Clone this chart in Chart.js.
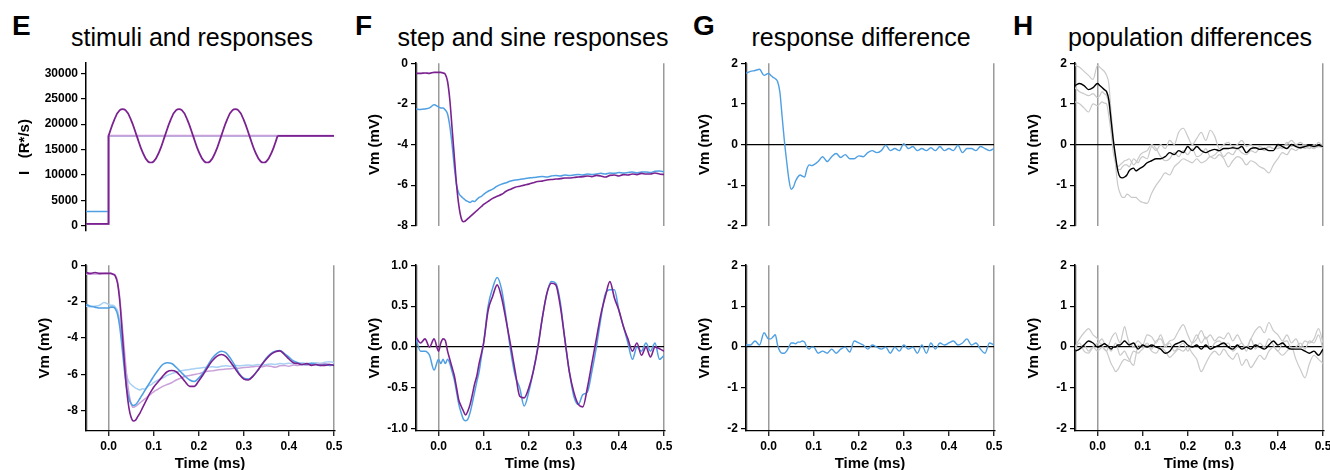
<!DOCTYPE html>
<html>
<head>
<meta charset="utf-8">
<script src="https://cdn.jsdelivr.net/npm/chart.js@4"></script>
<style>
  html, body { margin: 0; padding: 0; background: #fff; overflow: hidden; }
  #fig { position: relative; width: 1330px; height: 470px; }
  #fig canvas { position: absolute; }
  .letter { position: absolute; top: 12px; font: bold 28px "Liberation Sans", Arial, sans-serif; line-height: 1; }
  .title { position: absolute; top: 25px; width: 340px; text-align: center; font: 25px "Liberation Sans", Arial, sans-serif; line-height: 1; white-space: nowrap; }
</style>
</head>
<body>
<div id="fig">
  <div class="letter" style="left:12px">E</div>
  <div class="title" style="left:22px">stimuli and responses</div>
  <div class="letter" style="left:355px">F</div>
  <div class="title" style="left:363px">step and sine responses</div>
  <div class="letter" style="left:693px">G</div>
  <div class="title" style="left:691px">response difference</div>
  <div class="letter" style="left:1013px">H</div>
  <div class="title" style="left:1020px">population differences</div>
</div>
<script>
// shared time base (ms)
const timeMs = [-0.05, -0.04, -0.03, -0.02, -0.01,
  0, 0.005, 0.01, 0.015, 0.02, 0.025, 0.03, 0.035, 0.04, 0.045, 0.05, 0.055, 0.06, 0.065, 0.07, 0.075, 0.08, 0.085, 0.09, 0.095, 0.1,
  0.11, 0.12, 0.13, 0.14, 0.15, 0.16, 0.17, 0.18, 0.19, 0.2,
  0.21, 0.22, 0.23, 0.24, 0.25, 0.26, 0.27, 0.28, 0.29, 0.3,
  0.31, 0.32, 0.33, 0.34, 0.35, 0.36, 0.37, 0.38, 0.39, 0.4,
  0.41, 0.42, 0.43, 0.44, 0.45, 0.46, 0.47, 0.48, 0.49, 0.5];

const xGridValues = [-0.05, 0, 0.1, 0.2, 0.3, 0.4, 0.5];
const refLineTimes = [-0.05, 0, 0.5];

// E top: stimuli (R*/s)
const stepTime = [-0.05, 0, 0, 0.5];
const stepStimBlue = [2800, 2800, 17700, 17700];
const stepStimPurple = [350, 350, 17700, 17700];
const sinePreTime = [-0.05, 0, 0];
const sinePreRate = [350, 350, 17700];
const sineStimTime = [0, 0.0125, 0.025, 0.0375, 0.05, 0.0625, 0.075, 0.0875, 0.1, 0.1125,
  0.125, 0.1375, 0.15, 0.1625, 0.175, 0.1875, 0.2, 0.2125, 0.225, 0.2375,
  0.25, 0.2625, 0.275, 0.2875, 0.3, 0.3125, 0.325, 0.3375, 0.35, 0.3625, 0.375];
const sineStimRate = [17700, 20800, 22750, 22750, 20800, 17700, 14600, 12650, 12650, 14600,
  17700, 20800, 22750, 22750, 20800, 17700, 14600, 12650, 12650, 14600,
  17700, 20800, 22750, 22750, 20800, 17700, 14600, 12650, 12650, 14600, 17700];
const sineTailTime = [0.375, 0.5];
const sineTailRate = [17700, 17700];

// E bottom / F top: responses (mV)
const sineRespPurple = [-0.4, -0.45, -0.4, -0.45, -0.45,
  -0.45, -0.45, -0.5, -0.6, -1.0, -2.0, -3.6, -5.3, -6.8, -7.8, -8.35, -8.55, -8.5, -8.3, -8.1, -7.85, -7.6, -7.35, -7.1, -6.9, -6.7,
  -6.4, -6.1, -5.85, -5.78, -5.85, -6.1, -6.4, -6.65, -6.65, -6.35,
  -6.0, -5.6, -5.25, -5.0, -4.9, -5.0, -5.3, -5.65, -6.0, -6.25,
  -6.3, -6.1, -5.8, -5.45, -5.15, -4.9, -4.75, -4.7, -4.9, -5.15,
  -5.35, -5.4, -5.45, -5.4, -5.5, -5.45, -5.5, -5.5, -5.45, -5.5];
const sineRespBlue = [-2.15, -2.25, -2.3, -2.35, -2.35,
  -2.35, -2.3, -2.3, -2.4, -2.7, -3.4, -4.5, -5.7, -6.7, -7.3, -7.6, -7.7, -7.65, -7.5, -7.3, -7.1, -6.9, -6.7, -6.5, -6.3, -6.1,
  -5.75, -5.45, -5.35, -5.4, -5.6, -5.85, -6.1, -6.3, -6.38, -6.2,
  -5.9, -5.5, -5.1, -4.85, -4.72, -4.8, -5.1, -5.5, -5.95, -6.2,
  -6.25, -6.1, -5.8, -5.45, -5.1, -4.85, -4.72, -4.68, -4.85, -5.05,
  -5.25, -5.35, -5.45, -5.45, -5.4, -5.45, -5.5, -5.45, -5.5, -5.45];
const stepRespPurple = [-0.5, -0.5, -0.48, -0.5, -0.45,
  -0.45, -0.45, -0.48, -0.55, -0.9, -1.8, -3.2, -4.6, -6.0, -7.0, -7.6, -7.8, -7.75, -7.65, -7.55, -7.45, -7.35, -7.25, -7.15, -7.05, -6.95,
  -6.8, -6.65, -6.55, -6.45, -6.3, -6.2, -6.1, -6.05, -6.0, -5.95,
  -5.88, -5.82, -5.8, -5.75, -5.72, -5.7, -5.68, -5.65, -5.65, -5.62,
  -5.6, -5.58, -5.55, -5.58, -5.52, -5.55, -5.6, -5.52, -5.5, -5.55,
  -5.48, -5.5, -5.45, -5.48, -5.42, -5.45, -5.45, -5.4, -5.45, -5.48];
const stepRespBlue = [-2.25, -2.28, -2.25, -2.2, -2.05,
  -2.15, -2.2, -2.2, -2.3, -2.5, -3.1, -4.0, -5.1, -6.0, -6.4, -6.55, -6.65, -6.75, -6.8, -6.85, -6.78, -6.8, -6.7, -6.6, -6.55, -6.45,
  -6.3, -6.2, -6.05, -5.95, -5.88, -5.8, -5.75, -5.72, -5.68, -5.65,
  -5.62, -5.6, -5.58, -5.6, -5.55, -5.52, -5.55, -5.5, -5.52, -5.5,
  -5.48, -5.5, -5.45, -5.48, -5.45, -5.42, -5.45, -5.4, -5.42, -5.38,
  -5.4, -5.38, -5.35, -5.4, -5.35, -5.35, -5.38, -5.32, -5.3, -5.35];

// F bottom: sine minus step (mV)
const sineOnlyPurple = [0.12, 0.05, 0.1, 0.0, 0.1,
  -0.05, 0.05, 0.1, 0.08, -0.05, -0.15, -0.25, -0.35, -0.5, -0.65, -0.72, -0.78, -0.83, -0.78, -0.7, -0.58, -0.45, -0.35, -0.2, -0.08, 0.05,
  0.45, 0.62, 0.76, 0.6, 0.32, 0.02, -0.3, -0.6, -0.62, -0.5,
  -0.3, -0.02, 0.35, 0.65, 0.78, 0.76, 0.5, 0.1, -0.3, -0.55,
  -0.7, -0.73, -0.5, -0.2, 0.1, 0.4, 0.62, 0.8, 0.6, 0.45,
  0.25, 0.1, -0.05, 0.05, -0.1, 0.0, -0.12, 0.0, -0.02, -0.05];
const sineOnlyBlue = [0.1, -0.05, -0.05, -0.1, -0.28,
  -0.15, -0.2, -0.15, -0.2, -0.15, -0.2, -0.3, -0.4, -0.55, -0.7, -0.8, -0.88, -0.9, -0.88, -0.8, -0.68, -0.55, -0.42, -0.3, -0.12, 0.05,
  0.5, 0.72, 0.85, 0.7, 0.35, -0.05, -0.35, -0.5, -0.72, -0.55,
  -0.3, 0.0, 0.35, 0.65, 0.8, 0.78, 0.55, 0.1, -0.3, -0.6,
  -0.7, -0.58, -0.55, -0.3, 0.0, 0.35, 0.65, 0.7, 0.7, 0.45,
  0.25, 0.05, -0.15, 0.0, -0.05, 0.05, -0.05, 0.05, -0.15, -0.1];

// G: blue minus purple (mV)
const stepDiff = [1.75, 1.8, 1.82, 1.85, 1.7,
  1.75, 1.7, 1.65, 1.62, 1.55, 1.3, 0.7, 0.1, -0.4, -0.85, -1.1, -1.05, -0.9, -0.8, -0.75, -0.78, -0.8, -0.6, -0.5, -0.52, -0.5,
  -0.42, -0.3, -0.42, -0.3, -0.22, -0.32, -0.25, -0.35, -0.35, -0.28,
  -0.3, -0.2, -0.15, -0.2, -0.15, -0.02, -0.15, -0.1, -0.15, 0.02,
  -0.1, -0.05, -0.15, -0.1, -0.15, -0.08, -0.15, -0.05, -0.15, -0.1,
  -0.15, -0.02, -0.2, -0.1, -0.1, -0.15, -0.05, -0.1, -0.15, -0.1];
const sineDiff = [0.05, 0.05, 0.15, 0.05, 0.35,
  0.2, 0.2, 0.25, 0.3, 0.05, -0.1, -0.15, -0.15, -0.1, 0.0, 0.1, 0.1, 0.08, 0.12, 0.12, 0.15, 0.12, 0.0, -0.05, 0.0, 0.0,
  -0.15, -0.1, -0.15, -0.05, -0.15, -0.05, 0.0, -0.12, 0.15, 0.1,
  0.05, -0.05, 0.05, 0.0, -0.05, 0.0, -0.15, 0.0, -0.1, 0.05,
  -0.05, 0.0, -0.15, 0.05, -0.15, 0.1, -0.05, 0.1, 0.05, 0.1,
  0.15, 0.05, 0.1, 0.2, 0.05, 0.1, -0.05, -0.15, 0.1, 0.05];

// H top: population step differences (mV)
const popStepMean = [1.45, 1.5, 1.45, 1.35, 1.4,
  1.5, 1.45, 1.4, 1.35, 1.3, 1.1, 0.6, 0.1, -0.3, -0.65, -0.8, -0.82, -0.8, -0.75, -0.65, -0.6, -0.58, -0.65, -0.62, -0.58, -0.55,
  -0.45, -0.4, -0.35, -0.35, -0.3, -0.2, -0.25, -0.15, -0.2, -0.05,
  -0.15, -0.05, -0.15, -0.2, -0.15, -0.12, -0.15, -0.1, -0.1, -0.08,
  -0.1, -0.05, -0.2, -0.1, -0.08, -0.12, -0.1, -0.15, -0.15, 0.0,
  -0.05, -0.1, 0.0, -0.05, -0.08, -0.05, -0.02, -0.05, -0.02, -0.05];
const popStepCell1 = [1.95, 1.9, 1.8, 1.7, 1.6,
  1.95, 1.9, 1.85, 1.8, 1.7, 1.5, 0.8, 0.2, -0.5, -1.0, -1.2, -1.3, -1.3, -1.22, -1.25, -1.3, -1.3, -1.3, -1.35, -1.4, -1.42,
  -1.45, -1.2, -1.0, -0.85, -0.7, -0.75, -0.55, -0.45, -0.35, -0.4,
  -0.45, -0.35, -0.45, -0.4, -0.3, -0.35, -0.25, -0.35, -0.55, -0.4,
  -0.3, -0.35, -0.5, -0.4, -0.45, -0.55, -0.6, -0.7, -0.5, -0.35,
  -0.2, -0.25, -0.1, -0.15, -0.05, -0.1, -0.05, -0.1, -0.05, -0.08];
const popStepCell2 = [1.4, 1.3, 1.25, 1.2, 1.25,
  1.15, 1.2, 1.3, 1.25, 1.2, 1.0, 0.5, 0.0, -0.4, -0.6, -0.62, -0.55, -0.5, -0.5, -0.55, -0.45, -0.35, -0.4, -0.45, -0.35, -0.3,
  -0.35, -0.05, -0.15, 0.0, -0.1, 0.1, 0.0, 0.3, 0.4, 0.2,
  0.0, 0.15, 0.3, 0.1, 0.35, 0.2, -0.1, 0.0, 0.05, -0.05,
  0.0, 0.1, -0.05, 0.0, -0.1, -0.05, -0.1, -0.05, -0.1, -0.1,
  -0.05, 0.0, 0.1, 0.0, 0.05, -0.05, -0.1, 0.0, -0.05, 0.0];
const popStepCell3 = [1.05, 1.0, 0.9, 0.8, 1.0,
  0.95, 1.0, 1.05, 1.02, 1.0, 0.7, 0.3, -0.2, -0.45, -0.55, -0.5, -0.45, -0.4, -0.38, -0.35, -0.42, -0.5, -0.45, -0.35, -0.25, -0.2,
  -0.15, 0.0, -0.1, -0.3, -0.4, -0.35, -0.2, -0.3, -0.15, -0.25,
  -0.1, -0.3, -0.25, -0.1, -0.3, -0.25, -0.15, -0.3, -0.2, -0.25,
  -0.1, -0.2, -0.25, -0.15, -0.2, -0.1, -0.15, -0.05, -0.1, -0.05,
  -0.1, 0.05, -0.05, 0.0, -0.1, 0.0, -0.05, -0.1, 0.05, -0.05];

// H bottom: population sine differences (mV)
const popSineMean = [-0.1, -0.05, 0.05, 0.15, 0.1,
  0.0, 0.02, 0.05, 0.08, 0.05, 0.0, -0.05, 0.0, 0.0, 0.05, 0.05, 0.1, 0.15, 0.1, 0.05, 0.08, 0.1, 0.02, -0.05, 0.0, 0.05,
  0.0, 0.05, 0.0, -0.05, -0.15, -0.1, 0.05, 0.1, 0.15, 0.05,
  0.0, 0.05, -0.05, 0.05, -0.05, 0.0, 0.05, 0.1, 0.0, -0.05,
  0.05, -0.05, 0.0, -0.05, 0.05, 0.0, -0.05, 0.05, 0.15, 0.05,
  0.1, 0.0, -0.05, -0.05, -0.05, -0.1, -0.15, -0.1, -0.2, -0.05];
const popSineCell1 = [0.0, 0.2, 0.35, 0.45, 0.3,
  0.2, 0.1, 0.05, -0.05, -0.1, 0.05, 0.2, 0.3, 0.35, 0.2, 0.1, 0.3, 0.5, 0.3, 0.1, 0.05, 0.0, 0.1, 0.15, 0.1, 0.05,
  0.3, 0.25, 0.1, 0.3, 0.05, 0.15, 0.2, 0.4, 0.55, 0.3,
  0.1, 0.2, 0.4, 0.2, 0.3, 0.15, 0.25, 0.2, 0.35, 0.15,
  0.3, 0.1, 0.0, 0.2, 0.4, 0.5, 0.35, 0.6, 0.4, 0.3,
  0.15, 0.3, 0.1, 0.2, 0.0, 0.15, 0.1, 0.2, 0.45, 0.1];
const popSineCell2 = [-0.1, -0.05, 0.05, -0.1, 0.0,
  -0.1, -0.05, 0.0, -0.05, -0.1, -0.25, -0.4, -0.5, -0.6, -0.55, -0.45, -0.35, -0.3, -0.32, -0.35, -0.2, -0.1, -0.12, -0.15, -0.1, -0.05,
  0.05, -0.1, -0.15, 0.0, -0.1, -0.25, -0.15, -0.05, -0.1, 0.0,
  -0.15, -0.3, -0.6, -0.4, -0.2, -0.1, -0.2, -0.05, -0.2, -0.3,
  -0.15, -0.45, -0.3, -0.5, -0.35, -0.2, -0.3, -0.1, 0.0, -0.1,
  -0.2, -0.1, 0.0, -0.3, -0.55, -0.75, -0.4, -0.2, -0.3, -0.4];
const popSineCell3 = [-0.05, 0.1, -0.1, -0.15, 0.0,
  0.1, 0.15, 0.2, 0.1, 0.05, -0.02, -0.1, 0.0, 0.1, -0.05, -0.2, -0.15, -0.1, -0.2, -0.3, -0.4, -0.45, -0.2, 0.05, 0.02, 0.0,
  0.1, -0.05, 0.15, 0.2, 0.0, 0.1, -0.1, 0.0, 0.1, -0.1,
  0.1, 0.3, 0.1, 0.25, -0.05, 0.1, 0.15, 0.05, 0.1, -0.1,
  0.0, 0.1, -0.1, 0.2, -0.05, 0.1, 0.0, 0.2, 0.05, -0.1,
  0.1, 0.15, -0.05, 0.0, 0.1, -0.05, 0.15, 0.1, 0.3, -0.05];

// y tick labels
const stimTicks = [0, 5000, 10000, 15000, 20000, 25000, 30000];
const respTicks = [0, -2, -4, -6, -8];
const sineOnlyTicks = [1.0, 0.5, 0.0, -0.5, -1.0];
const diffTicks = [2, 1, 0, -1, -2];

const purpleDark = '#7b2190';
const purpleLight = '#c9a1da';
const blue = '#4f9fe3';
const blueLight = '#a8d0f2';
const grayTrace = '#c9c9c9';
const refGray = '#9a9a9a';
const family = '"Liberation Sans", Arial, Helvetica, sans-serif';

Chart.defaults.font.family = family;
Chart.defaults.color = '#000';

function pts(xs, ys) {
    return ys.map((v, i) => ({ x: xs[i], y: v }));
}
function trace(values, color, width) {
    return {
        data: pts(timeMs, values),
        borderColor: color,
        borderWidth: width || 1.5,
        pointRadius: 0,
        cubicInterpolationMode: 'monotone',
        fill: false
    };
}
function poly(xs, ys, color, width, tension) {
    return {
        data: pts(xs, ys),
        borderColor: color,
        borderWidth: width,
        pointRadius: 0,
        tension: tension || 0,
        fill: false
    };
}

const fig = document.getElementById('fig');

// datasets are listed bottom layer first; give later ones a lower order so they draw on top
function layered(list) {
    return list.map((d, i) => Object.assign(d, { order: list.length - i }));
}

function makePanel(p) {
    const cv = document.createElement('canvas');
    cv.width = 340;
    cv.height = p.h;
    cv.style.left = (p.plotLeft - 80) + 'px';
    cv.style.top = p.top + 'px';
    fig.appendChild(cv);
    const tickFont = { size: 12, weight: 'bold', family: family };
    const titleFont = { size: 15, weight: 'bold', family: family };
    new Chart(cv, {
        type: 'line',
        data: { datasets: layered(p.datasets) },
        options: {
            responsive: false,
            animation: false,
            devicePixelRatio: 1,
            events: [],
            layout: { padding: { left: 80 - p.yWidth, top: 10, right: 12, bottom: p.padBottom } },
            plugins: { legend: { display: false }, tooltip: { enabled: false } },
            scales: {
                x: {
                    type: 'linear', min: -0.05, max: 0.5,
                    afterBuildTicks: s => { s.ticks = xGridValues.map(v => ({ value: v })); },
                    afterFit: s => { s.height = p.xHeight; },
                    ticks: {
                        display: p.xAxis, font: tickFont, color: '#000', padding: 3,
                        maxRotation: 0, autoSkip: false,
                        callback: v => v < 0 ? '' : v.toFixed(1)
                    },
                    grid: {
                        color: c => (p.refLines && c.tick && refLineTimes.includes(c.tick.value)) ? refGray : 'rgba(0,0,0,0)',
                        lineWidth: c => (c.tick && c.tick.value < 0) ? 2.5 : 1.5,
                        drawTicks: p.xAxis, tickLength: 5, tickWidth: 1.2,
                        tickColor: c => (c.tick && c.tick.value < 0) ? 'rgba(0,0,0,0)' : '#000'
                    },
                    border: { display: p.xAxis, color: '#000', width: 1.3 },
                    title: { display: p.xAxis, text: 'Time (ms)', font: titleFont, color: '#000', padding: 0 }
                },
                y: {
                    min: p.yMin, max: p.yMax,
                    afterBuildTicks: s => { s.ticks = p.yTicks.map(v => ({ value: v })); },
                    afterFit: s => { s.width = p.yWidth; },
                    ticks: { font: tickFont, color: '#000', padding: 3, autoSkip: false, callback: p.yFmt },
                    grid: {
                        color: c => (p.zeroLine && c.tick && c.tick.value === 0) ? '#000' : 'rgba(0,0,0,0)',
                        lineWidth: 1.2, tickLength: 5, tickWidth: 1.2, tickColor: '#000'
                    },
                    border: { color: '#000', width: 1.5 },
                    title: { display: true, text: p.yTitle, font: titleFont, color: '#000', padding: 0 }
                }
            }
        }
    });
}

const intFmt = v => String(v);
const oneDec = v => v.toFixed(1);
const vmTitle = 'Vm (mV)';
const colLeft = [86, 416, 746, 1075];
const topRow = { top: 53, h: 183, padBottom: 8, xHeight: 0, xAxis: false };
const bottomRow = { top: 255, h: 217, padBottom: 0, xHeight: 42, xAxis: true };

// E top
makePanel(Object.assign({}, topRow, {
    plotLeft: colLeft[0], h: 188, yWidth: 70, yMin: -1000, yMax: 32000, yTicks: stimTicks, yFmt: intFmt,
    yTitle: 'I\u00a0\u00a0\u00a0(R*/s)', refLines: false, zeroLine: false,
    datasets: [
        poly(stepTime, stepStimBlue, blue, 1.3),
        poly(stepTime, stepStimPurple, purpleLight, 2),
        poly(sinePreTime, sinePreRate, purpleDark, 1.8),
        poly(sineStimTime, sineStimRate, purpleDark, 1.8, 0.4),
        poly(sineTailTime, sineTailRate, purpleDark, 1.8)
    ]
}));
// E bottom
makePanel(Object.assign({}, bottomRow, {
    plotLeft: colLeft[0], h: 218, yWidth: 50, yMin: -9.1, yMax: 0, yTicks: respTicks, yFmt: intFmt,
    yTitle: vmTitle, refLines: true, zeroLine: false,
    datasets: [
        trace(stepRespBlue, blueLight, 1.5),
        trace(stepRespPurple, purpleLight, 1.5),
        trace(sineRespBlue, blue, 1.6),
        trace(sineRespPurple, purpleDark, 1.6)
    ]
}));
// F top
makePanel(Object.assign({}, topRow, {
    plotLeft: colLeft[1], yWidth: 50, yMin: -8, yMax: 0, yTicks: respTicks, yFmt: intFmt,
    yTitle: vmTitle, refLines: true, zeroLine: false,
    datasets: [trace(stepRespBlue, blue, 1.5), trace(stepRespPurple, purpleDark, 1.6)]
}));
// F bottom
makePanel(Object.assign({}, bottomRow, {
    plotLeft: colLeft[1], h: 218, yWidth: 50, yMin: -1.025, yMax: 1, yTicks: sineOnlyTicks, yFmt: oneDec,
    yTitle: vmTitle, refLines: true, zeroLine: true,
    datasets: [trace(sineOnlyBlue, blue, 1.5), trace(sineOnlyPurple, purpleDark, 1.6)]
}));
// G top
makePanel(Object.assign({}, topRow, {
    plotLeft: colLeft[2], yWidth: 50, yMin: -2, yMax: 2, yTicks: diffTicks, yFmt: intFmt,
    yTitle: vmTitle, refLines: true, zeroLine: true,
    datasets: [trace(stepDiff, blue, 1.4)]
}));
// G bottom
makePanel(Object.assign({}, bottomRow, {
    plotLeft: colLeft[2], h: 218, yWidth: 50, yMin: -2.05, yMax: 2, yTicks: diffTicks, yFmt: intFmt,
    yTitle: vmTitle, refLines: true, zeroLine: true,
    datasets: [trace(sineDiff, blue, 1.4)]
}));
// H top
makePanel(Object.assign({}, topRow, {
    plotLeft: colLeft[3], yWidth: 50, yMin: -2, yMax: 2, yTicks: diffTicks, yFmt: intFmt,
    yTitle: vmTitle, refLines: true, zeroLine: true,
    datasets: [
        trace(popStepCell1, grayTrace, 1.2),
        trace(popStepCell2, grayTrace, 1.2),
        trace(popStepCell3, grayTrace, 1.2),
        trace(popStepMean, '#000', 1.4)
    ]
}));
// H bottom
makePanel(Object.assign({}, bottomRow, {
    plotLeft: colLeft[3], h: 218, yWidth: 50, yMin: -2.05, yMax: 2, yTicks: diffTicks, yFmt: intFmt,
    yTitle: vmTitle, refLines: true, zeroLine: true,
    datasets: [
        trace(popSineCell1, grayTrace, 1.2),
        trace(popSineCell2, grayTrace, 1.2),
        trace(popSineCell3, grayTrace, 1.2),
        trace(popSineMean, '#000', 1.4)
    ]
}));
</script>
</body>
</html>
